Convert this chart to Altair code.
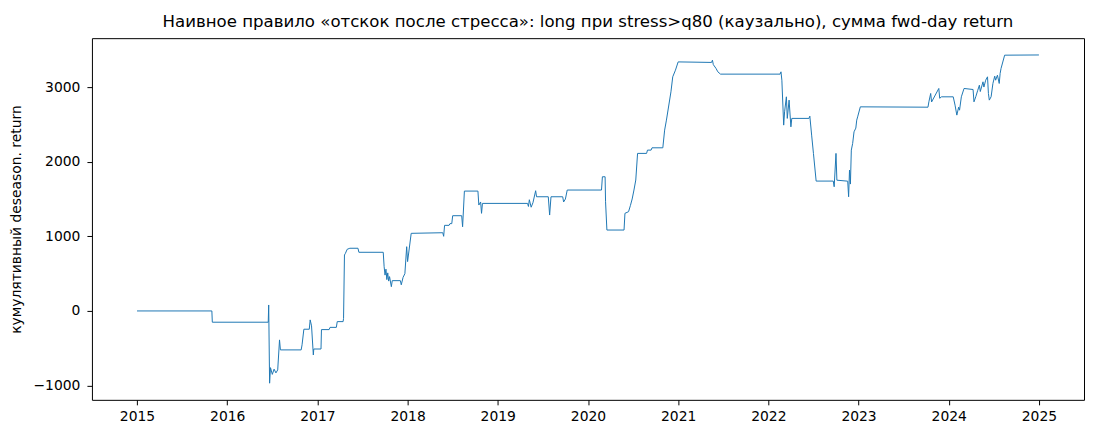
import altair as alt
import pandas as pd

years = [
    2015.00, 2015.83, 2015.835, 2016.455, 2016.46, 2016.47, 2016.48, 2016.50, 2016.52, 2016.54,
    2016.56, 2016.58, 2016.59, 2016.82, 2016.83, 2016.85, 2016.91, 2016.92, 2016.935, 2016.955,
    2016.96, 2017.04, 2017.045, 2017.13, 2017.14, 2017.21, 2017.22, 2017.285, 2017.29, 2017.30,
    2017.31, 2017.33, 2017.36, 2017.45, 2017.46, 2017.73, 2017.74, 2017.75, 2017.76, 2017.77,
    2017.78, 2017.79, 2017.80, 2017.82, 2017.83, 2017.92, 2017.93, 2017.95, 2017.97, 2017.99,
    2018.00, 2018.04, 2018.39, 2018.40, 2018.41, 2018.46, 2018.47, 2018.49, 2018.50, 2018.60,
    2018.61, 2018.63, 2018.78, 2018.79, 2018.81, 2018.82, 2018.83, 2019.33, 2019.34, 2019.35,
    2019.37, 2019.39, 2019.42, 2019.43, 2019.56, 2019.575, 2019.59, 2019.72, 2019.73, 2019.75,
    2019.77, 2020.15, 2020.16, 2020.19, 2020.195, 2020.21, 2020.40, 2020.41, 2020.45, 2020.47,
    2020.49, 2020.51, 2020.53, 2020.55, 2020.65, 2020.66, 2020.70, 2020.71, 2020.83, 2020.85,
    2020.87, 2020.92, 2020.94, 2020.97, 2021.00, 2021.37, 2021.38, 2021.39, 2021.42, 2021.44,
    2021.47, 2022.13, 2022.14, 2022.15, 2022.17, 2022.18, 2022.20, 2022.21, 2022.23, 2022.25,
    2022.26, 2022.45, 2022.46, 2022.48, 2022.50, 2022.53, 2022.72, 2022.73, 2022.75, 2022.76,
    2022.88, 2022.89, 2022.90, 2022.91, 2022.92, 2022.935, 2022.95, 2022.97, 2022.98, 2022.99,
    2023.02, 2023.77, 2023.78, 2023.80, 2023.81, 2023.89, 2023.90, 2023.92, 2024.05, 2024.07,
    2024.09, 2024.11, 2024.12, 2024.14, 2024.17, 2024.27, 2024.28, 2024.30, 2024.32, 2024.34,
    2024.35, 2024.38, 2024.39, 2024.41, 2024.43, 2024.44, 2024.45, 2024.47, 2024.49, 2024.51,
    2024.52, 2024.54, 2024.56, 2024.57, 2024.58, 2024.62, 2025.00,
]

cum_return = [
    0, 0, -151, -151, 80, -968, -760, -850, -780, -830,
    -790, -388, -522, -522, -453, -245, -245, -120, -200, -590,
    -510, -510, -250, -250, -220, -220, -143, -143, -100, 750,
    770, 826, 840, 840, 786, 786, 593, 480, 560, 420,
    510, 400, 460, 325, 406, 406, 350, 450, 500, 861,
    661, 1040, 1048, 1000, 1147, 1147, 1170, 1170, 1276, 1276,
    1128, 1606, 1606, 1419, 1460, 1308, 1441, 1441, 1400, 1490,
    1390, 1450, 1611, 1530, 1530, 1285, 1530, 1530, 1460, 1500,
    1620, 1620, 1798, 1798, 1463, 1084, 1084, 1308, 1330, 1410,
    1500, 1620, 1754, 2111, 2111, 2155, 2155, 2186, 2186, 2423,
    2557, 2936, 3137, 3226, 3337, 3330, 3360, 3300, 3249, 3204,
    3173, 3173, 3204, 3092, 2490, 2668, 2869, 2580, 2825, 2467,
    2580, 2580, 2610, 2356, 2111, 1740, 1740, 1664, 2111, 1752,
    1739, 1530, 1888, 1700, 2155, 2245, 2400, 2450, 2557, 2600,
    2735, 2730, 2802, 2914, 2800, 2981, 2850, 2869, 2869, 2758,
    2624, 2730, 2690, 2869, 2981, 2967, 2802, 2870, 2950, 3025,
    2940, 3070, 3000, 3092, 3137, 2914, 2825, 2870, 3048, 3146,
    3092, 3159, 3048, 3182, 3249, 3427, 3430,
]

x_ticks = [2015, 2016, 2017, 2018, 2019, 2020, 2021, 2022, 2023, 2024, 2025]
y_ticks = [-1000, 0, 1000, 2000, 3000]

title_text = "Наивное правило «отскок после стресса»: long при stress>q80 (каузально), сумма fwd-day return"
y_title = "кумулятивный deseason. return"

df = pd.DataFrame({"year": years, "cum": cum_return})

font = "DejaVu Sans"

chart = (
    alt.Chart(df)
    .mark_line(color="#1f77b4", strokeWidth=1, clip=True)
    .encode(
        x=alt.X(
            "year:Q",
            scale=alt.Scale(domain=[2014.5, 2025.5], nice=False, zero=False),
            axis=alt.Axis(values=x_ticks, format="d", title=None),
        ),
        y=alt.Y(
            "cum:Q",
            scale=alt.Scale(domain=[-1191, 3655], nice=False, zero=False),
            axis=alt.Axis(values=y_ticks, format="d", title=y_title),
        ),
    )
    .properties(
        width=993,
        height=362,
        title=alt.TitleParams(
            text=title_text, font=font, fontSize=16.6, fontWeight="normal",
            color="black", anchor="middle", offset=8,
        ),
        autosize=alt.AutoSizeParams(type="none"),
        padding={"left": 84, "top": 30, "right": 8, "bottom": 30},
    )
    .configure_view(stroke="black", strokeWidth=1)
    .configure_axis(
        grid=False,
        domain=False,
        ticks=True,
        tickColor="black",
        tickSize=5,
        tickWidth=1,
        labelFont=font,
        labelFontSize=13.9,
        labelColor="black",
        titleFont=font,
        titleFontSize=13.9,
        titleFontWeight="normal",
        titleColor="black",
    )
    .configure_axisY(titlePadding=9, labelPadding=7)
    .configure_axisX(labelPadding=5)
)

chart.save("out.html", embed_options={"renderer": "svg", "actions": False})
